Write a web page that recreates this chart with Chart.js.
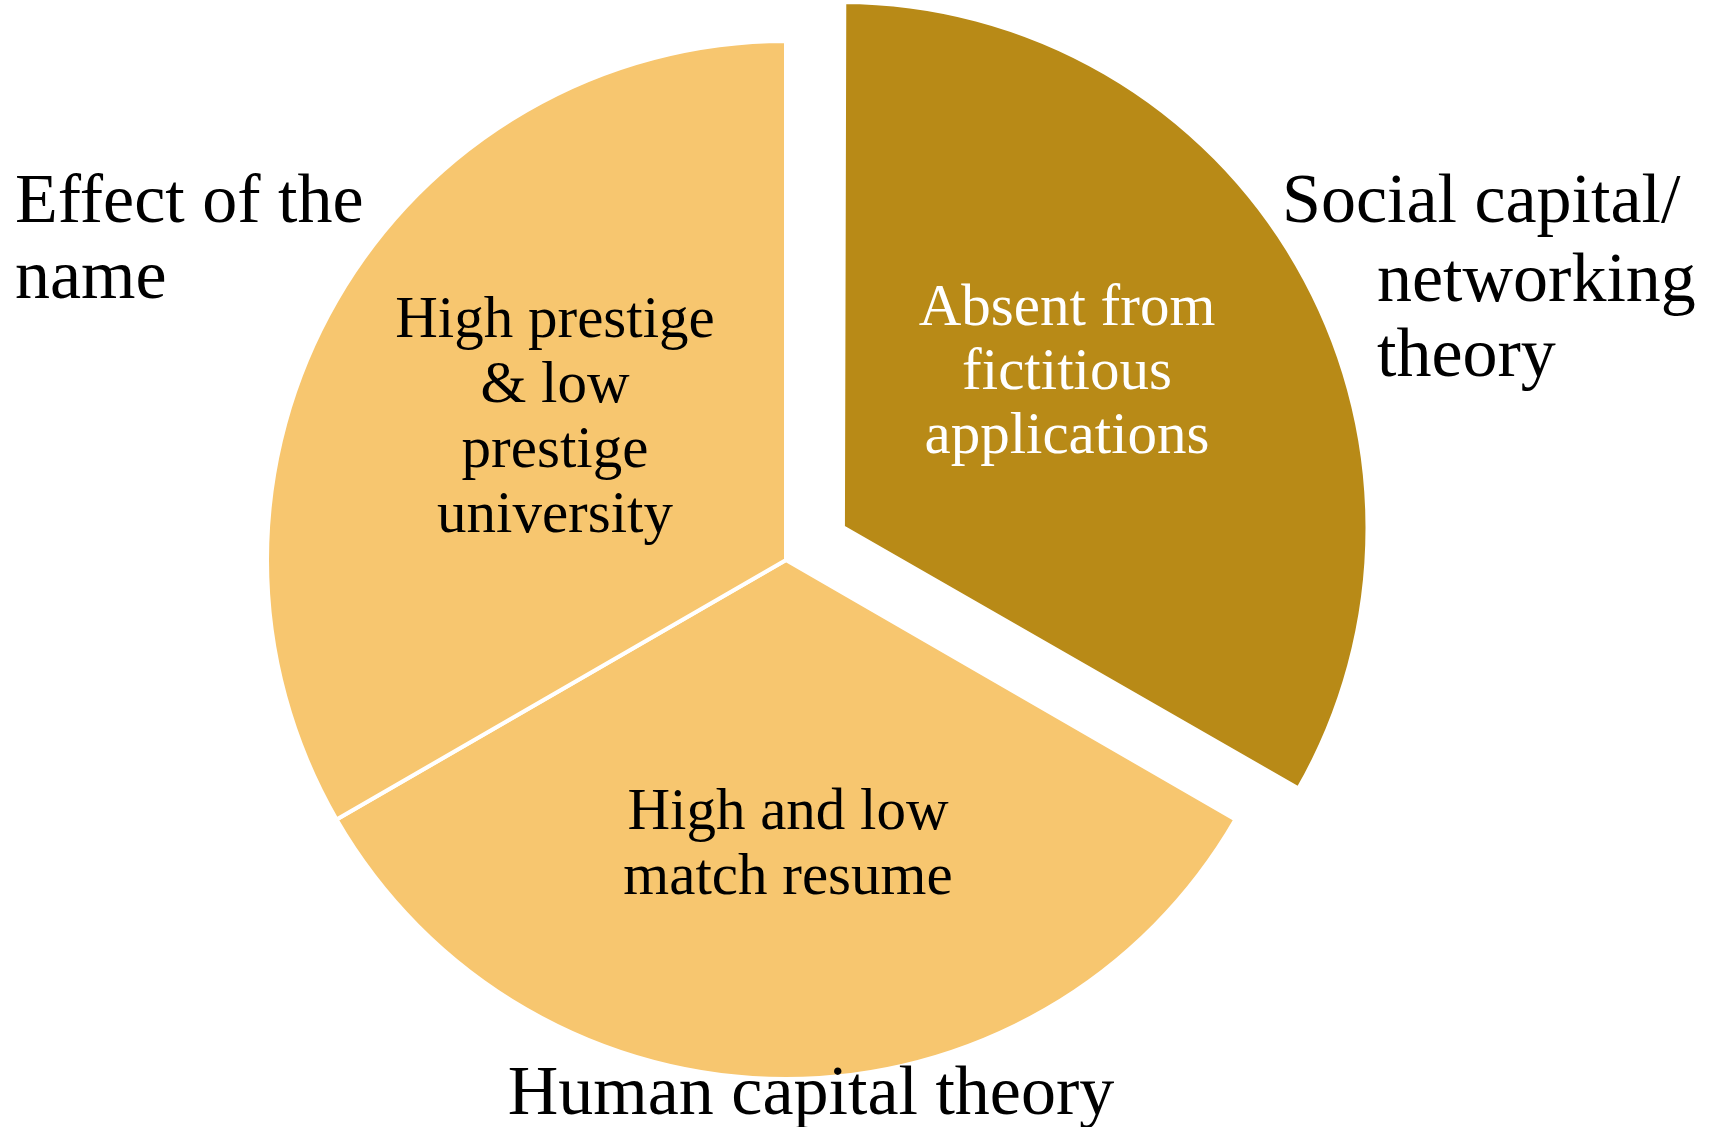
<!DOCTYPE html>
<html>
<head>
<meta charset="utf-8">
<title>Theories behind the fictitious applications</title>
<script src="https://cdn.jsdelivr.net/npm/chart.js@4.4.1/dist/chart.umd.min.js"></script>
<style>
  html, body { margin: 0; padding: 0; background: #ffffff; }
  #wrap { width: 1723px; height: 1127px; }
</style>
</head>
<body>
<div id="wrap"><canvas id="pie" width="1723" height="1127"></canvas></div>
<script>
// Three theories, each an equal share of the pie (clockwise from 12 o'clock)
const theories = ['Social capital/networking theory', 'Human capital theory', 'Effect of the name'];
const shares = [1, 1, 1];

// Text written inside each slice, line by line
const sliceText = [
  ['Absent from', 'fictitious', 'applications'],
  ['High and low', 'match resume'],
  ['High prestige', '& low', 'prestige', 'university']
];

// Theory names written around the pie, line by line
const theoryLines = [
  ['Social capital/', 'networking', 'theory'],
  ['Human capital theory'],
  ['Effect of the', 'name']
];

const sliceColors = ['#B88A17', '#F7C66F', '#F7C66F'];
const sliceTextColors = ['#ffffff', '#000000', '#000000'];
const FONT = '"Liberation Serif", "DejaVu Serif", serif';

const labelPlugin = {
  id: 'frameLabels',
  afterDatasetsDraw(chart) {
    const arcs = chart.getDatasetMeta(0).data;
    const cx = arcs[1].x, cy = arcs[1].y;
    const ctx = chart.ctx;
    ctx.save();
    ctx.textBaseline = 'alphabetic';

    // labels inside the slices: centre x, first baseline, line step
    const inner = [
      { x: cx + 281, y: cy - 235, step: 64 },
      { x: cx + 2,   y: cy + 269, step: 65 },
      { x: cx - 231, y: cy - 223, step: 65 }
    ];
    ctx.font = '59px ' + FONT;
    ctx.textAlign = 'center';
    sliceText.forEach((lines, i) => {
      ctx.fillStyle = sliceTextColors[i];
      lines.forEach((t, k) => ctx.fillText(t, inner[i].x, inner[i].y + k * inner[i].step));
    });

    // theory names outside the pie
    ctx.font = '70px ' + FONT;
    ctx.fillStyle = '#000000';
    const outer = [
      { align: 'left',   pos: [[1282, 222], [1377, 301], [1377, 376]] },
      { align: 'center', pos: [[811, 1114]] },
      { align: 'left',   pos: [[15, 222], [15, 298]] }
    ];
    theoryLines.forEach((lines, i) => {
      ctx.textAlign = outer[i].align;
      lines.forEach((t, k) => ctx.fillText(t, outer[i].pos[k][0], outer[i].pos[k][1]));
    });
    ctx.restore();
  }
};

new Chart(document.getElementById('pie'), {
  type: 'pie',
  data: {
    labels: theories,
    datasets: [{
      data: shares,
      backgroundColor: sliceColors,
      borderColor: '#ffffff',
      borderWidth: [7, 4, 4],
      offset: [256, 0, 0]
    }]
  },
  options: {
    responsive: false,
    animation: false,
    events: [],
    radius: 519,
    layout: { padding: { left: 0, right: 151, top: 0, bottom: 7 } },
    plugins: {
      legend: { display: false },
      tooltip: { enabled: false },
      title: { display: false }
    }
  },
  plugins: [labelPlugin]
});
</script>
</body>
</html>
